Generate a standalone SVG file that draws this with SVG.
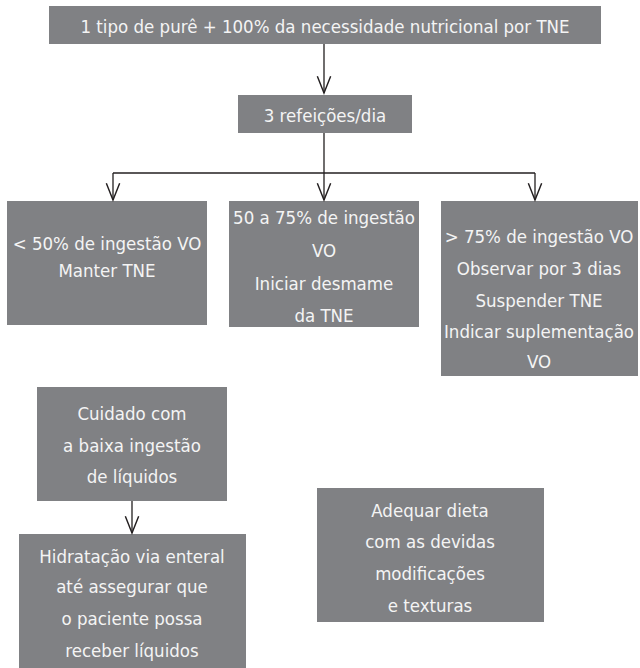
<svg xmlns="http://www.w3.org/2000/svg" width="640" height="668" viewBox="0 0 640 668">
<style>
.box{fill:#808184;}
.t{font-family:"DejaVu Sans Condensed","DejaVu Sans","Liberation Sans",sans-serif;font-stretch:condensed;font-size:18.5px;fill:#f4f4f4;text-anchor:middle;}
.c{fill:none;stroke:#231f20;stroke-width:1.3;}
</style>
<defs>
<marker id="ah" markerUnits="userSpaceOnUse" markerWidth="20" markerHeight="20" viewBox="-16 -8 18 16" refX="0" refY="0" orient="auto">
<path d="M-15,-6 L0,0 L-15,6" fill="none" stroke="#231f20" stroke-width="1.3"/>
</marker>
</defs>
<rect width="640" height="668" fill="#ffffff"/>
<g id="n1"><rect class="box" x="49" y="6" width="552" height="38"/><text class="t" x="325" y="33">1 tipo de purê + 100% da necessidade nutricional por TNE</text></g>
<g id="n2"><rect class="box" x="238" y="95" width="174" height="38"/><text class="t" x="325" y="122">3 refeições/dia</text></g>
<g id="n3"><rect class="box" x="7" y="201" width="200" height="124"/><text class="t" x="107" y="250">&lt; 50% de ingestão VO</text><text class="t" x="107" y="277">Manter TNE</text></g>
<g id="n4"><rect class="box" x="229" y="201" width="190" height="126"/><text class="t" x="324" y="224">50 a 75% de ingestão</text><text class="t" x="324" y="257">VO</text><text class="t" x="324" y="290">Iniciar desmame</text><text class="t" x="324" y="322">da TNE</text></g>
<g id="n5"><rect class="box" x="441" y="201" width="197" height="175"/><text class="t" x="539" y="243">&gt; 75% de ingestão VO</text><text class="t" x="539" y="275">Observar por 3 dias</text><text class="t" x="539" y="307">Suspender TNE</text><text class="t" x="539" y="338">Indicar suplementação</text><text class="t" x="539" y="368">VO</text></g>
<g id="n6"><rect class="box" x="37" y="387" width="190" height="114"/><text class="t" x="132" y="420">Cuidado com</text><text class="t" x="132" y="452">a baixa ingestão</text><text class="t" x="132" y="483">de líquidos</text></g>
<g id="n7"><rect class="box" x="19" y="534" width="227" height="134"/><text class="t" x="132" y="563">Hidratação via enteral</text><text class="t" x="132" y="593">até assegurar que</text><text class="t" x="132" y="625">o paciente possa</text><text class="t" x="132" y="657">receber líquidos</text></g>
<g id="n8"><rect class="box" x="317" y="488" width="227" height="134"/><text class="t" x="430" y="517">Adequar dieta</text><text class="t" x="430" y="548">com as devidas</text><text class="t" x="430" y="580">modificações</text><text class="t" x="430" y="612">e texturas</text></g>
<g id="connectors">
<path class="c" d="M324,44 V93" marker-end="url(#ah)"/>
<path class="c" d="M324,133 V173"/>
<path class="c" d="M113,173 H535"/>
<path class="c" d="M113,173 V200" marker-end="url(#ah)"/>
<path class="c" d="M324,173 V200" marker-end="url(#ah)"/>
<path class="c" d="M535,173 V200" marker-end="url(#ah)"/>
<path class="c" d="M132,501 V533" marker-end="url(#ah)"/>
</g>
</svg>
